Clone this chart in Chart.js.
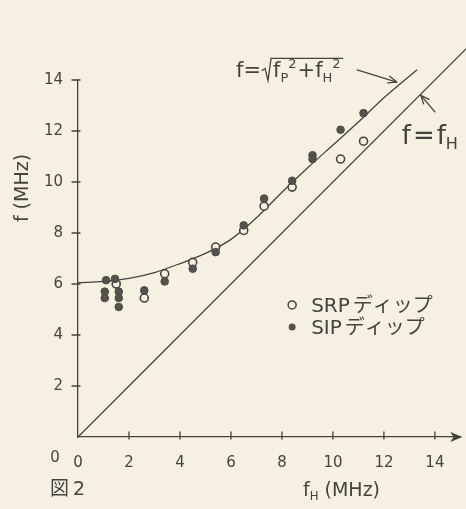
<!DOCTYPE html>
<html>
<head>
<meta charset="utf-8">
<script src="https://cdn.jsdelivr.net/npm/chart.js@4/dist/chart.umd.min.js"></script>
<style>
  html, body { margin: 0; padding: 0; background: #f5f0e1; }
  #wrap { width: 466px; height: 509px; }
</style>
</head>
<body>
<div id="wrap"><canvas id="c" width="466" height="509"></canvas></div>
<script>
// Tick values on each axis
const xTicks = [0, 2, 4, 6, 8, 10, 12, 14];
const yTicks = [2, 4, 6, 8, 10, 12, 14];

// SRP dips (open circles): fH in MHz, f in MHz
const srpFH = [1.5, 2.6, 3.4, 4.5, 5.4, 6.5, 7.3, 8.4, 10.3, 11.2];
const srpF  = [6.0, 5.45, 6.4, 6.85, 7.45, 8.1, 9.05, 9.8, 10.9, 11.6];

// SIP dips (filled circles)
const sipFH = [1.1, 1.45, 1.05, 1.05, 1.6, 1.6, 1.6, 2.6, 3.4, 4.5, 5.4, 6.5, 7.3, 8.4, 9.2, 9.2, 10.3, 11.2];
const sipF  = [6.15, 6.2, 5.7, 5.45, 5.7, 5.45, 5.1, 5.75, 6.1, 6.6, 7.25, 8.3, 9.35, 10.05, 11.05, 10.9, 12.05, 12.7];

// Hand-drawn curve f = sqrt(fp^2 + fH^2)
const curveFH = [0, 1, 2, 3, 4, 5, 6, 7, 8, 9, 10, 11, 12, 13.3];
const curveF  = [6.05, 6.1, 6.22, 6.45, 6.8, 7.2, 7.75, 8.6, 9.6, 10.55, 11.45, 12.35, 13.3, 14.4];

// Straight line f = fH
const diagFH = [0, 15.4];
const diagF  = [0, 15.4];

const INK = '#45433f';
const PAPER = '#f5f0e1';
const LATIN = '"DejaVu Sans", "Noto Sans", sans-serif';
const CJK = '"Noto Sans CJK JP", "Noto Sans", sans-serif';

const toPoints = (xs, ys) => xs.map((x, i) => ({ x: x, y: ys[i] }));

// Axis tick marks, arrow head, annotations and legend
const decorations = {
  id: 'decorations',
  afterDatasetsDraw(chart) {
    const ctx = chart.ctx;
    const xs = chart.scales.x, ys = chart.scales.y;
    const px = (x, y) => [xs.getPixelForValue(x), ys.getPixelForValue(y)];
    const ox = xs.getPixelForValue(0), oy = ys.getPixelForValue(0);
    ctx.save();
    ctx.strokeStyle = INK;
    ctx.fillStyle = INK;
    ctx.lineWidth = 1.3;
    ctx.lineCap = 'round';

    // tick marks crossing the axes
    xTicks.forEach(v => {
      if (v === 0) return;
      const x = xs.getPixelForValue(v);
      ctx.beginPath(); ctx.moveTo(x, oy - 5); ctx.lineTo(x, oy + 2); ctx.stroke();
    });
    yTicks.forEach(v => {
      const y = ys.getPixelForValue(v);
      ctx.beginPath(); ctx.moveTo(ox - 6, y); ctx.lineTo(ox + 2, y); ctx.stroke();
    });

    // arrow head at the end of the x axis
    const ax = chart.chartArea.right;
    ctx.beginPath();
    ctx.moveTo(ax + 2, oy);
    ctx.lineTo(ax - 10, oy - 5);
    ctx.lineTo(ax - 7, oy);
    ctx.lineTo(ax - 10, oy + 5);
    ctx.closePath();
    ctx.fill();

    // y-axis "0" at the corner
    ctx.font = '15px ' + LATIN;
    ctx.textAlign = 'center';
    ctx.textBaseline = 'middle';
    ctx.fillText('0', ox - 23, oy + 21);

    // helper: draw text pieces with sub/superscripts
    const pieces = (list, x, y, size) => {
      ctx.textAlign = 'left';
      ctx.textBaseline = 'alphabetic';
      let cx = x;
      list.forEach(p => {
        const s = p.sub || p.sup ? size * 0.62 : size;
        ctx.font = s + 'px ' + (p.cjk ? CJK : LATIN);
        const dy = p.sub ? size * 0.22 : (p.sup ? -size * 0.45 : 0);
        ctx.fillText(p.t, cx, y + dy);
        cx += ctx.measureText(p.t).width + (p.gap || 0);
      });
      return cx;
    };

    const arrow = (x1, y1, x2, y2) => {
      ctx.beginPath(); ctx.moveTo(x1, y1); ctx.lineTo(x2, y2); ctx.stroke();
      const a = Math.atan2(y2 - y1, x2 - x1);
      ctx.beginPath();
      ctx.moveTo(x2, y2);
      ctx.lineTo(x2 - 9 * Math.cos(a - 0.4), y2 - 9 * Math.sin(a - 0.4));
      ctx.moveTo(x2, y2);
      ctx.lineTo(x2 - 9 * Math.cos(a + 0.4), y2 - 9 * Math.sin(a + 0.4));
      ctx.stroke();
    };

    // label for the curve: f = sqrt(fP^2 + fH^2)
    {
      const [x0, y0] = px(6.2, 14.1);
      let cx = pieces([{ t: 'f=' }], x0, y0, 21);
      // radical sign
      const rStart = cx + 1;
      ctx.beginPath();
      ctx.moveTo(rStart, y0 - 7);
      ctx.lineTo(rStart + 3, y0 - 9);
      ctx.lineTo(rStart + 6, y0 + 3);
      ctx.lineTo(rStart + 9, y0 - 19);
      const inner = rStart + 11;
      const end = pieces([
        { t: 'f' }, { t: 'P', sub: true }, { t: '2', sup: true, gap: 1 },
        { t: '+' }, { t: 'f' }, { t: 'H', sub: true }, { t: '2', sup: true }
      ], inner, y0, 21);
      ctx.lineTo(end + 2, y0 - 19);
      ctx.stroke();
      const [a1x, a1y] = px(10.95, 14.4);
      const [a2x, a2y] = px(12.5, 13.92);
      arrow(a1x, a1y, a2x, a2y);
    }

    // label for the line f = fH
    {
      const [x0, y0] = px(12.7, 11.5);
      pieces([{ t: 'f', gap: 2 }, { t: '=', gap: 2 }, { t: 'f' }, { t: 'H', sub: true }], x0, y0, 26);
      const [a1x, a1y] = px(14.0, 12.75);
      const [a2x, a2y] = px(13.45, 13.4);
      arrow(a1x, a1y, a2x, a2y);
    }

    // legend
    {
      const [lx, ly1] = px(8.4, 5.18);
      const [, ly2] = px(8.4, 4.31);
      ctx.lineWidth = 1.5;
      ctx.beginPath(); ctx.arc(lx, ly1, 4, 0, Math.PI * 2);
      ctx.fillStyle = PAPER; ctx.fill(); ctx.stroke();
      ctx.fillStyle = '#55524d';
      ctx.beginPath(); ctx.arc(lx, ly2, 3.5, 0, Math.PI * 2); ctx.fill();
      ctx.fillStyle = INK;
      pieces([{ t: 'SRP', gap: 3 }, { t: 'ディップ', cjk: true }], lx + 19, ly1 + 7, 20);
      pieces([{ t: 'SIP', gap: 3 }, { t: 'ディップ', cjk: true }], lx + 19, ly2 + 7, 20);
    }

    // axis titles and figure caption
    ctx.fillStyle = INK;
    pieces([{ t: 'f' }, { t: 'H', sub: true, gap: 6 }, { t: '(MHz)' }], 303, 496, 19);
    pieces([{ t: '図', cjk: true, gap: 4 }, { t: '2' }], 50, 495, 19);
    ctx.save();
    ctx.translate(28, 188);
    ctx.rotate(-Math.PI / 2);
    ctx.textAlign = 'center';
    ctx.textBaseline = 'alphabetic';
    ctx.font = '19px ' + LATIN;
    ctx.fillText('f (MHz)', 0, 0);
    ctx.restore();

    ctx.restore();
  }
};

const tickFont = { family: LATIN, size: 15 };

new Chart(document.getElementById('c'), {
  type: 'scatter',
  data: {
    datasets: [
      {
        label: 'SIP',
        data: toPoints(sipFH, sipF),
        pointRadius: 3.8,
        pointBackgroundColor: '#55524d',
        pointBorderColor: '#4a4844',
        pointBorderWidth: 1,
        showLine: false,
        order: 0
      },
      {
        label: 'SRP',
        data: toPoints(srpFH, srpF),
        pointRadius: 4,
        pointBackgroundColor: PAPER,
        pointBorderColor: INK,
        pointBorderWidth: 1.6,
        showLine: false,
        order: 1
      },
      {
        label: 'curve',
        data: toPoints(curveFH, curveF),
        showLine: true,
        borderColor: INK,
        borderWidth: 1.3,
        pointRadius: 0,
        tension: 0.4,
        cubicInterpolationMode: 'monotone',
        clip: false,
        order: 2
      },
      {
        label: 'f=fH',
        data: toPoints(diagFH, diagF),
        showLine: true,
        borderColor: INK,
        borderWidth: 1.3,
        pointRadius: 0,
        clip: false,
        order: 3
      }
    ]
  },
  options: {
    responsive: false,
    animation: false,
    devicePixelRatio: 1,
    layout: { padding: { left: 0, right: 4, top: 80, bottom: 0 } },
    plugins: { legend: { display: false }, tooltip: { enabled: false } },
    scales: {
      x: {
        type: 'linear',
        min: 0,
        max: 15,
        afterBuildTicks: s => { s.ticks = xTicks.map(v => ({ value: v })); },
        afterFit: s => { s.height = 72; },
        grid: { display: false, drawTicks: false },
        border: { display: true, color: INK, width: 1.3 },
        ticks: { padding: 17, font: tickFont, color: INK, maxRotation: 0 }
      },
      y: {
        type: 'linear',
        min: 0,
        max: 14,
        afterBuildTicks: s => { s.ticks = yTicks.map(v => ({ value: v })); },
        afterFit: s => { s.width = 78; },
        grid: { display: false, drawTicks: false },
        border: { display: true, color: INK, width: 1.3 },
        ticks: { padding: 15, font: tickFont, color: INK }
      }
    }
  },
  plugins: [decorations]
});
</script>
</body>
</html>
